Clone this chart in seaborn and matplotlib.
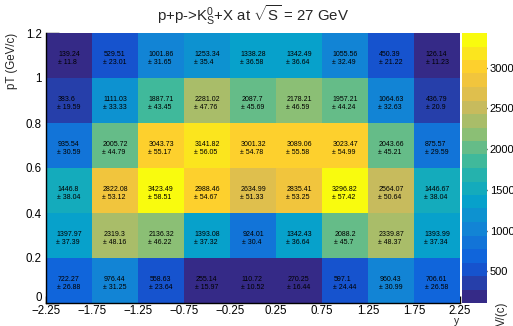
import numpy as np
import pandas as pd
import seaborn as sns
import matplotlib.pyplot as plt
import matplotlib.transforms as mtransforms
from matplotlib.colors import LinearSegmentedColormap, BoundaryNorm
from matplotlib.ticker import MultipleLocator

# ==========================
# DATOS
# ==========================

rap_labels = ["\u22122.25", "\u22121.75", "\u22121.25", "\u22120.75", "\u22120.25",
              "0.25", "0.75", "1.25", "1.75", "2.25"]
pt_labels = ["0", "0.2", "0.4", "0.6", "0.8", "1", "1.2"]

# filas: pT 0-0.2 ... 1.0-1.2
counts = [
    [722.27, 976.44, 558.63, 255.14, 110.72, 270.25, 597.1, 960.43, 706.61],
    [1397.97, 2319.3, 2136.32, 1393.08, 924.01, 1342.43, 2088.2, 2339.87, 1393.99],
    [1446.8, 2822.08, 3423.49, 2988.46, 2634.99, 2835.41, 3296.82, 2564.07, 1446.67],
    [935.54, 2005.72, 3043.73, 3141.82, 3001.32, 3089.06, 3023.47, 2043.66, 875.57],
    [383.6, 1111.03, 1887.71, 2281.02, 2087.7, 2178.21, 1957.21, 1064.63, 436.79],
    [139.24, 529.51, 1001.86, 1253.34, 1338.28, 1342.49, 1055.56, 450.39, 126.14],
]
errors = [
    [26.88, 31.25, 23.64, 15.97, 10.52, 16.44, 24.44, 30.99, 26.58],
    [37.39, 48.16, 46.22, 37.32, 30.4, 36.64, 45.7, 48.37, 37.34],
    [38.04, 53.12, 58.51, 54.67, 51.33, 53.25, 57.42, 50.64, 38.04],
    [30.59, 44.79, 55.17, 56.05, 54.78, 55.58, 54.99, 45.21, 29.59],
    [19.59, 33.33, 43.45, 47.76, 45.69, 46.59, 44.24, 32.63, 20.9],
    [11.8, 23.01, 31.65, 35.4, 36.58, 36.64, 32.49, 21.22, 11.23],
]
cbar_ticks = [500, 1000, 1500, 2000, 2500, 3000]

df = pd.DataFrame(counts, index=pt_labels[:-1], columns=rap_labels[:-1])

# ==========================
# PALETA (kBird de ROOT), 20 niveles
# ==========================

stops = [0.0, 0.125, 0.25, 0.375, 0.5, 0.625, 0.75, 0.875, 1.0]
red = [0.2082, 0.0592, 0.0780, 0.0232, 0.1802, 0.5301, 0.8186, 0.9956, 0.9764]
green = [0.1664, 0.3599, 0.5041, 0.6419, 0.7178, 0.7492, 0.7328, 0.7862, 0.9832]
blue = [0.5293, 0.8684, 0.8385, 0.7914, 0.6425, 0.4662, 0.3499, 0.1968, 0.0539]
bird = LinearSegmentedColormap.from_list(
    "bird", list(zip(stops, zip(red, green, blue))), N=256)

vals = np.array(counts)
levels = np.linspace(vals.min(), vals.max(), 21)
norm = BoundaryNorm(levels, ncolors=256)

# ==========================
# FIGURA
# ==========================

sns.set_style("ticks")
plt.rcParams["font.family"] = ["Liberation Sans", "DejaVu Sans"]
plt.rcParams["mathtext.fontset"] = "custom"
plt.rcParams["mathtext.rm"] = "Liberation Sans"
plt.rcParams["mathtext.it"] = "Liberation Sans"

fig = plt.figure(figsize=(5.13, 3.26), dpi=100)
W, H = 513, 326
ax = fig.add_axes([46 / W, 1 - 303 / H, (460 - 46) / W, (303 - 33) / H])
cax = fig.add_axes([462 / W, 1 - 303 / H, 25 / W, (303 - 33) / H])

sns.heatmap(df, ax=ax, cbar_ax=cax, cmap=bird, norm=norm,
            xticklabels=False, yticklabels=False, linewidths=0)
ax.invert_yaxis()

for s in ["left", "bottom"]:
    ax.spines[s].set_visible(True)
    ax.spines[s].set_color("black")
    ax.spines[s].set_linewidth(1.0)

ax.set_xticks(range(len(rap_labels)))
ax.set_xticklabels(rap_labels)
ax.set_yticks(range(len(pt_labels)))
ax.set_yticklabels(pt_labels)
ax.xaxis.set_minor_locator(MultipleLocator(0.2))
ax.yaxis.set_minor_locator(MultipleLocator(0.25))
ax.tick_params(axis="both", which="both", direction="in", labelsize=8.3,
               colors="black", width=1)
ax.tick_params(axis="x", which="major", length=5, pad=1.5)
ax.tick_params(axis="x", which="minor", length=2.5)
ax.tick_params(axis="y", which="major", length=9, pad=3)
ax.tick_params(axis="y", which="minor", length=4.5)
ax.set_xlabel("")
ax.set_ylabel("")

# el "0" del eje pT un poco mas arriba, como en ROOT
lbl0 = ax.get_yticklabels()[0]
lbl0.set_transform(lbl0.get_transform() +
                   mtransforms.ScaledTranslation(0, 5 / 72, fig.dpi_scale_trans))

for i in range(len(counts)):
    for j in range(len(counts[i])):
        ax.text(j + 0.5, i + 0.5 - 0.07, f"{counts[i][j]:g}\n\u00b1 {errors[i][j]:g}",
                ha="center", va="center", multialignment="left",
                fontsize=5, color="black")

cb = ax.collections[0].colorbar
cb.set_ticks(cbar_ticks)
cb.outline.set_linewidth(0)
cax.tick_params(axis="y", which="both", direction="in", length=7, width=1,
                labelsize=8, pad=2, colors="black")
cax.minorticks_off()

fig.text(253 / W, 1 - 15 / H, r"p+p->K$_{\mathrm{S}}^{0}$+X at $\sqrt{\mathrm{S}}$ = 27 GeV",
         ha="center", va="center", fontsize=10.8)
fig.text(457 / W, 1 - 324 / H, "y", ha="center", va="baseline", fontsize=7.5)
fig.text(12 / W, 1 - 33 / H, "pT (GeV/c)", rotation=90, ha="center", va="top",
         fontsize=8.3)
fig.text(502 / W, 1 - 302 / H, "V/(c)", rotation=90, ha="center", va="top", fontsize=8.3)

fig.savefig("out.png", dpi=100)
